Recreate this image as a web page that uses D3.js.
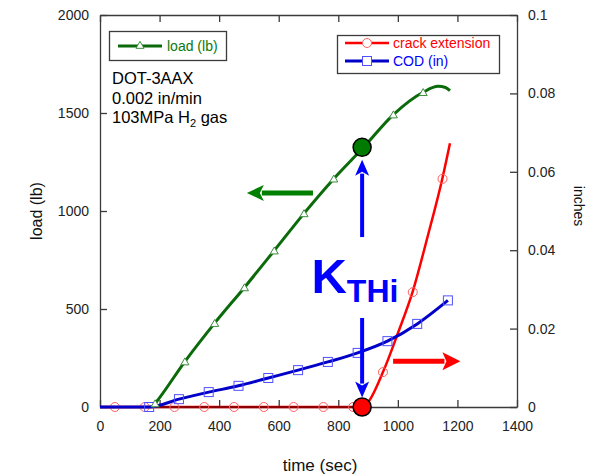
<!DOCTYPE html>
<html>
<head>
<meta charset="utf-8">
<script src="https://cdn.jsdelivr.net/npm/d3@7"></script>
<style>
  body { margin: 0; background: #fff; }
  svg { font-family: Arial, "Liberation Sans", sans-serif; }
</style>
</head>
<body>
<svg id="chart" width="596" height="475"></svg>
<script>
// tick values / labels
const timeTicks = [0, 200, 400, 600, 800, 1000, 1200, 1400];
const loadTicks = [0, 500, 1000, 1500, 2000];
const inchTicks = [0, 0.02, 0.04, 0.06, 0.08, 0.1];
const inchTickLabels = ["0", "0.02", "0.04", "0.06", "0.08", "0.1"];

// load (lb) vs time (sec)
const loadCurve = [[175, 0], [185, 18], [285, 232], [385, 428], [485, 610], [585, 798], [685, 988],
  [785, 1165], [885, 1325], [985, 1492], [1085, 1606], [1135, 1636], [1160, 1630], [1175, 1614]];
const loadMarks = [[185, 18], [285, 232], [385, 428], [485, 610], [585, 798], [685, 988],
  [785, 1165], [885, 1325], [985, 1492], [1085, 1606]];

// crack extension (in)
const crackCurve = [[0, 0], [880, 0], [900, 0.0012], [950, 0.0089], [1000, 0.0188],
  [1050, 0.0295], [1100, 0.0435], [1150, 0.0585], [1175, 0.0673]];
const crackMarks = [[50, 0], [150, 0], [250, 0], [350, 0], [450, 0], [550, 0], [650, 0], [750, 0],
  [850, 0], [950, 0.0089], [1050, 0.0293], [1150, 0.0582]];

// COD (in)
const codCurve = [[0, 0], [165, 0], [265, 0.002], [365, 0.0038], [465, 0.0054], [565, 0.0074],
  [665, 0.0094], [765, 0.0115], [865, 0.0138], [965, 0.0168], [1065, 0.0212], [1168, 0.0272]];
const codMarks = codCurve.slice(1, 12);

// K_THi point
const kthiTime = 880;
const kthiLoad = 1325;

const svg = d3.select('#chart');
const x = d3.scaleLinear().domain([0, 1400]).range([100, 517]);
const yL = d3.scaleLinear().domain([0, 2000]).range([407, 15]);
const yR = d3.scaleLinear().domain([0, 0.1]).range([407, 15]);

const frame = '#3a3a3a';
const green = '#0b6b0b', blue = '#0000c8', red = '#ff0000';

// axes (ticks point inward)
function styleAxis(g) {
  g.selectAll('path, line').attr('stroke', frame).attr('stroke-width', 1.3);
  g.selectAll('text').attr('font-size', 14).attr('fill', '#222');
}
svg.append('g').attr('transform', 'translate(0,407)')
  .call(d3.axisBottom(x).tickValues(timeTicks).tickSizeInner(-7).tickSizeOuter(0).tickPadding(14)
    .tickFormat(d3.format('d')))
  .call(styleAxis);
svg.append('g').attr('transform', 'translate(0,15)')
  .call(d3.axisTop(x).tickValues(timeTicks).tickSizeInner(-7).tickSizeOuter(0).tickFormat(''))
  .call(styleAxis);
svg.append('g').attr('transform', 'translate(100,0)')
  .call(d3.axisLeft(yL).tickValues(loadTicks).tickSizeInner(-7).tickSizeOuter(0).tickPadding(11)
    .tickFormat(d3.format('d')))
  .call(styleAxis);
svg.append('g').attr('transform', 'translate(517,0)')
  .call(d3.axisRight(yR).tickValues(inchTicks).tickSizeInner(-7).tickSizeOuter(0).tickPadding(11)
    .tickFormat((d, i) => inchTickLabels[i]))
  .call(styleAxis);
svg.selectAll('.domain').attr('fill', 'none');

// axis titles
svg.append('text').attr('x', 320).attr('y', 471).attr('text-anchor', 'middle')
  .attr('font-size', 17).attr('fill', '#111').text('time (sec)');
svg.append('text').attr('transform', 'translate(42,211) rotate(-90)').attr('text-anchor', 'middle')
  .attr('font-size', 16).attr('fill', '#111').text('load (lb)');
svg.append('text').attr('transform', 'translate(574,206) rotate(90)').attr('text-anchor', 'middle')
  .attr('font-size', 14).attr('fill', '#111').text('inches');

const lineL = d3.line().x(d => x(d[0])).y(d => yL(d[1])).curve(d3.curveMonotoneX);
const lineR = d3.line().x(d => x(d[0])).y(d => yR(d[1])).curve(d3.curveMonotoneX);

// crack extension line + markers
svg.append('path').datum(crackCurve).attr('d', lineR)
  .attr('fill', 'none').attr('stroke', red).attr('stroke-width', 2.5);
svg.append('path').datum(crackCurve.slice(0, 2)).attr('d', lineR)
  .attr('fill', 'none').attr('stroke', '#900000').attr('stroke-width', 2);
svg.selectAll('.cm').data(crackMarks).enter().append('circle')
  .attr('cx', d => x(d[0])).attr('cy', d => yR(d[1])).attr('r', 4.5)
  .attr('fill', 'none').attr('stroke', '#ff6060').attr('stroke-width', 1);

// COD line + markers
svg.append('path').datum(codCurve).attr('d', lineR)
  .attr('fill', 'none').attr('stroke', blue).attr('stroke-width', 3);
svg.selectAll('.sm').data(codMarks).enter().append('rect')
  .attr('x', d => x(d[0]) - 4.5).attr('y', d => yR(d[1]) - 4.5).attr('width', 9).attr('height', 9)
  .attr('fill', 'none').attr('stroke', '#5050ff').attr('stroke-width', 1);

// load line + markers
svg.append('path').datum(loadCurve).attr('d', lineL)
  .attr('fill', 'none').attr('stroke', green).attr('stroke-width', 3);
const tri = d3.symbol().type(d3.symbolTriangle).size(28);
svg.selectAll('.tm').data(loadMarks).enter().append('path')
  .attr('d', tri).attr('transform', d => `translate(${x(d[0])},${yL(d[1]) + 1})`)
  .attr('fill', '#fff').attr('stroke', '#3d8f3d').attr('stroke-width', 1);

// arrows
function arrow(x1, y1, x2, y2, color, w, headLen, headHalf) {
  const dx = x2 - x1, dy = y2 - y1, len = Math.hypot(dx, dy);
  const ux = dx / len, uy = dy / len;
  const bx = x2 - ux * headLen, by = y2 - uy * headLen;
  svg.append('line').attr('x1', x1).attr('y1', y1).attr('x2', bx + ux * 2).attr('y2', by + uy * 2)
    .attr('stroke', color).attr('stroke-width', w);
  svg.append('path')
    .attr('d', `M${x2},${y2}L${bx - uy * headHalf},${by + ux * headHalf}L${bx + ux * 4},${by + uy * 4}L${bx + uy * headHalf},${by - ux * headHalf}Z`)
    .attr('fill', color);
}
arrow(x(715), yL(1092), x(493), yL(1092), '#008000', 5, 17, 8);
arrow(x(kthiTime), yL(867), x(kthiTime), yL(1262), '#0000ff', 4, 16, 7);
arrow(x(kthiTime), yL(454), x(kthiTime), yL(48), '#0000ff', 4, 16, 7);
arrow(x(984), yR(0.0117), x(1210), yR(0.0117), '#ff0000', 5, 18, 9);

// K_THi dots
svg.append('circle').attr('cx', x(kthiTime)).attr('cy', yL(kthiLoad)).attr('r', 9)
  .attr('fill', '#007a00').attr('stroke', '#000').attr('stroke-width', 1.5);
svg.append('circle').attr('cx', x(kthiTime)).attr('cy', yL(0)).attr('r', 9)
  .attr('fill', '#ff0000').attr('stroke', '#000').attr('stroke-width', 1.5);

// K_THi label
const kt = svg.append('text').attr('x', x(710)).attr('y', yL(582))
  .attr('font-weight', 'bold').attr('fill', '#0000ff').attr('font-size', 49);
kt.append('tspan').text('K');
kt.append('tspan').attr('dy', 9).attr('font-size', 32).text('THi');

// legend: load
svg.append('rect').attr('x', 109.5).attr('y', 31.5).attr('width', 117).attr('height', 29)
  .attr('fill', '#fff').attr('stroke', frame).attr('stroke-width', 1.3);
svg.append('line').attr('x1', 118).attr('x2', 162).attr('y1', 46).attr('y2', 46)
  .attr('stroke', green).attr('stroke-width', 3);
svg.append('path').attr('d', tri).attr('transform', 'translate(140,46)')
  .attr('fill', '#fff').attr('stroke', '#3d8f3d').attr('stroke-width', 1);
svg.append('text').attr('x', 167).attr('y', 51).attr('font-size', 14).attr('fill', '#0b7a0b').text('load (lb)');

// legend: crack + COD
svg.append('rect').attr('x', 337.5).attr('y', 35.5).attr('width', 162).attr('height', 38)
  .attr('fill', '#fff').attr('stroke', frame).attr('stroke-width', 1.3);
svg.append('line').attr('x1', 345).attr('x2', 389).attr('y1', 43).attr('y2', 43)
  .attr('stroke', red).attr('stroke-width', 2.5);
svg.append('circle').attr('cx', 367).attr('cy', 43).attr('r', 4.5)
  .attr('fill', '#fff').attr('stroke', '#ff6060').attr('stroke-width', 1);
svg.append('text').attr('x', 393).attr('y', 48).attr('font-size', 14).attr('fill', red).text('crack extension');
svg.append('line').attr('x1', 345).attr('x2', 389).attr('y1', 61).attr('y2', 61)
  .attr('stroke', blue).attr('stroke-width', 3);
svg.append('rect').attr('x', 362.5).attr('y', 56.5).attr('width', 9).attr('height', 9)
  .attr('fill', '#fff').attr('stroke', '#5050ff').attr('stroke-width', 1);
svg.append('text').attr('x', 393).attr('y', 66).attr('font-size', 14).attr('fill', '#0000ff').text('COD (in)');

// specimen info
const info = svg.append('g').attr('font-size', 16.5).attr('fill', '#000');
info.append('text').attr('x', 112).attr('y', 84).text('DOT-3AAX');
info.append('text').attr('x', 112).attr('y', 103.5).text('0.002 in/min');
const h2 = info.append('text').attr('x', 112).attr('y', 123);
h2.append('tspan').text('103MPa H');
h2.append('tspan').attr('dy', 4).attr('font-size', 11).text('2');
h2.append('tspan').attr('dy', -4).text(' gas');
</script>
</body>
</html>
